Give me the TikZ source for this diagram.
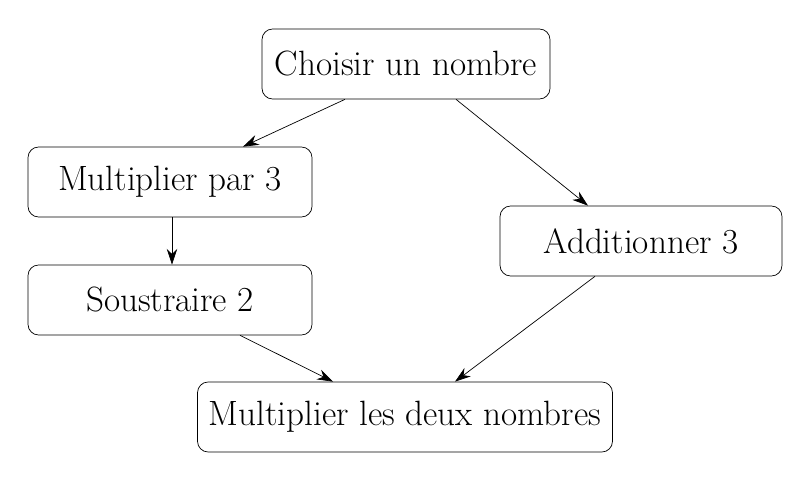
\documentclass[tikz,border=0pt]{standalone}
\usetikzlibrary{arrows.meta}

\tikzset{
  etape/.style={draw, rounded corners=6pt, minimum height=1.4cm, inner sep=0pt,
    font=\fontsize{20}{24}\selectfont},
  fleche/.style={-{Stealth[length=9pt,width=6pt]}, thin}
}

\begin{document}
\begin{tikzpicture}[x=0.02cm, y=-0.02cm]
  \useasboundingbox (0,0) rectangle (812,482);

  % etapes
  \node[etape, minimum width=5.76cm] (choix) at (406,64) {Choisir un nombre};
  \node[etape, minimum width=5.68cm] (mult) at (170,182) {Multiplier par 3};
  \node[etape, minimum width=5.68cm] (sous) at (170,300) {Soustraire 2};
  \node[etape, minimum width=5.64cm] (add) at (641,241) {Additionner 3};
  \node[etape, minimum width=8.3cm] (prod) at (405,417) {Multiplier les deux nombres};

  % fleches
  \draw[fleche] (choix.south -| 345,0) -- (mult.north -| 243,0);
  \draw[fleche] (choix.south -| 456,0) -- (add.north -| 588,0);
  \draw[fleche] (mult.south -| 172,0) -- (sous.north -| 172,0);
  \draw[fleche] (sous.south -| 240,0) -- (prod.north -| 333,0);
  \draw[fleche] (add.south -| 595,0) -- (prod.north -| 455,0);
\end{tikzpicture}
\end{document}
